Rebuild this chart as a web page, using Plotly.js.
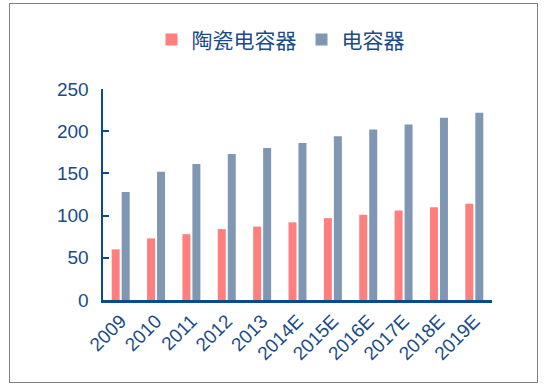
<!DOCTYPE html>
<html>
<head>
<meta charset="utf-8">
<script src="https://cdn.plot.ly/plotly-3.0.1.min.js"></script>
<style>
html,body{margin:0;padding:0;background:#fff;}
#wrap{position:relative;width:550px;height:387px;}
#chart{position:absolute;left:0;top:0;width:550px;height:387px;}
#frame{position:absolute;left:9px;top:3px;width:527px;height:378px;border:1px solid #808080;pointer-events:none;}
</style>
</head>
<body>
<div id="wrap"><div id="chart"></div><div id="frame"></div></div>
<script>
var categories = ["2009","2010","2011","2012","2013","2014E","2015E","2016E","2017E","2018E","2019E"];
var ceramicValues = [60, 73, 78, 84, 87, 92, 97, 101, 106, 110, 114];
var capacitorValues = [128, 152, 161, 173, 180, 186, 194, 202, 208, 216, 222];
var seriesNames = ["陶瓷电容器", "电容器"];
var yTicks = [0, 50, 100, 150, 200, 250];

var axisColor = "#0B4A8B";
var textColor = "#1A4B87";
var font = "Liberation Sans, Arial, sans-serif";

var traces = [
  {type:"bar", name:seriesNames[0], x:categories, y:ceramicValues, marker:{color:"#FF7F7F"}},
  {type:"bar", name:seriesNames[1], x:categories, y:capacitorValues, marker:{color:"#7F97B2"}}
];

var layout = {
  width:550, height:387,
  margin:{l:103, r:58, t:89, b:87},
  paper_bgcolor:"rgba(0,0,0,0)", plot_bgcolor:"#fff",
  barmode:"group", bargap:0.435, bargroupgap:0.2,
  showlegend:true,
  legend:{orientation:"h", x:0.51, xanchor:"center", xref:"container", y:0.897, yanchor:"middle", yref:"container",
          font:{family:"Noto Sans CJK SC, sans-serif", size:21, color:textColor}, itemwidth:20, traceorder:"normal"},
  xaxis:{type:"category", showline:true, linecolor:axisColor, linewidth:2.5, ticks:"", tickangle:-45,
         tickfont:{family:font, size:19, color:textColor}, showgrid:false, zeroline:false, fixedrange:true},
  yaxis:{range:[0,250], tickvals:yTicks, showline:true, linecolor:axisColor, linewidth:2.5,
         ticks:"inside", ticklen:6, tickwidth:2, tickcolor:axisColor,
         tickfont:{family:font, size:19, color:textColor}, showgrid:false, zeroline:false, ticklabelstandoff:8, fixedrange:true}
};

Plotly.newPlot("chart", traces, layout, {displayModeBar:false, staticPlot:true});
</script>
</body>
</html>
